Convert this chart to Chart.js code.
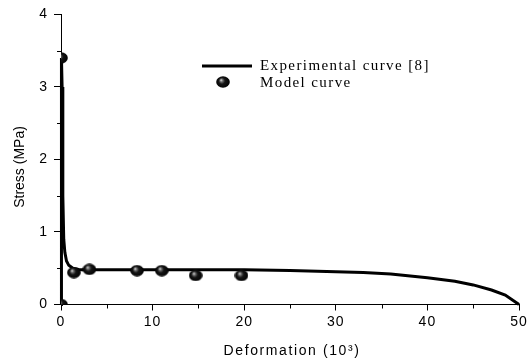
<!DOCTYPE html>
<html><head><meta charset="utf-8">
<script src="https://cdn.jsdelivr.net/npm/chart.js@4/dist/chart.umd.min.js"></script>
<style>html,body{margin:0;padding:0;background:#fff}#wrap{width:532px;height:361px}</style>
</head><body><div id="wrap"><canvas id="c" width="532" height="361"></canvas></div>
<script>
// Experimental curve [8] (x in 10^3, stress in MPa)
const expX = [0, 0.05, 0.12, 0.2, 0.3, 0.42, 0.6, 0.85, 1.3, 2, 5, 10, 15, 20, 25, 30, 33, 36, 40, 43, 45, 47, 48.5, 50];
const expY = [0, 3.4, 3.0, 1.5, 0.9, 0.72, 0.6, 0.54, 0.5, 0.48, 0.48, 0.48, 0.48, 0.48, 0.47, 0.45, 0.44, 0.42, 0.37, 0.32, 0.27, 0.2, 0.13, 0];
// Model curve points
const modX = [0, 0, 1.4, 3.1, 8.3, 11.0, 14.7, 19.7];
const modY = [3.40, 0, 0.44, 0.485, 0.467, 0.467, 0.40, 0.40];
const xTicks = [0, 10, 20, 30, 40, 50];
const yTicks = [0, 1, 2, 3, 4];
const labels = ['Experimental curve [8]', 'Model curve'];
const titles = { x: 'Deformation (10³)', y: 'Stress (MPa)' };

function sphere() {
  const c = document.createElement('canvas');
  c.width = 14; c.height = 12;
  const g = c.getContext('2d');
  const grad = g.createRadialGradient(5, 4, 0, 7, 6, 7);
  grad.addColorStop(0, '#e8e8e8');
  grad.addColorStop(0.2, '#707070');
  grad.addColorStop(0.45, '#151515');
  grad.addColorStop(1, '#000');
  g.fillStyle = grad;
  g.beginPath(); g.ellipse(7, 6, 6.8, 5.8, 0, 0, Math.PI * 2); g.fill();
  return c;
}
const ball = sphere();

const spacing = {
  id: 'spacing',
  beforeDraw(chart) { chart.ctx.letterSpacing = '1px'; },
  afterDatasetsDraw(chart) { chart.ctx.letterSpacing = '0px'; }
};

const extras = {
  id: 'extras',
  afterDraw(chart) {
    const ctx = chart.ctx, xs = chart.scales.x, ys = chart.scales.y, a = chart.chartArea;
    ctx.save();
    ctx.letterSpacing = '0px';
    ctx.strokeStyle = '#000'; ctx.lineWidth = 1;
    // minor ticks
    for (let v = 5; v < 50; v += 10) {
      const px = Math.round(xs.getPixelForValue(v)) + 0.5;
      ctx.beginPath(); ctx.moveTo(px, a.bottom); ctx.lineTo(px, a.bottom + 4); ctx.stroke();
    }
    for (let v = 0.5; v < 4; v += 1) {
      const py = Math.round(ys.getPixelForValue(v)) + 0.5;
      ctx.beginPath(); ctx.moveTo(a.left, py); ctx.lineTo(a.left - 4, py); ctx.stroke();
    }
    // axis titles
    ctx.fillStyle = '#000';
    ctx.font = '14px "Liberation Sans", Arial, sans-serif';
    ctx.textAlign = 'center'; ctx.textBaseline = 'middle';
    ctx.letterSpacing = '1.6px';
    ctx.fillText(titles.x, 292, 351);
    ctx.letterSpacing = '0px';
    ctx.save();
    ctx.translate(20, 167); ctx.rotate(-Math.PI / 2);
    ctx.fillText(titles.y, 0, 0);
    ctx.restore();
    // legend
    ctx.lineWidth = 3;
    ctx.beginPath(); ctx.moveTo(202, 66); ctx.lineTo(252, 66); ctx.stroke();
    ctx.drawImage(ball, 216, 76);
    ctx.font = '15px "Liberation Serif", "Times New Roman", serif';
    ctx.textAlign = 'left'; ctx.textBaseline = 'alphabetic';
    ctx.letterSpacing = '1.4px';
    ctx.fillText(labels[0], 260, 70);
    ctx.fillText(labels[1], 260, 87);
    ctx.restore();
  }
};

new Chart(document.getElementById('c'), {
  type: 'scatter',
  data: {
    datasets: [
      {
        type: 'line', label: labels[0],
        data: expX.map((x, i) => ({ x, y: expY[i] })),
        borderColor: '#000', borderWidth: 3, pointRadius: 0, tension: 0,
        fill: false, clip: 2, order: 2
      },
      {
        label: labels[1],
        data: modX.map((x, i) => ({ x, y: modY[i] })),
        pointStyle: ball, pointRadius: 7, clip: 0, order: 1
      }
    ]
  },
  plugins: [spacing, extras],
  options: {
    responsive: false, animation: false,
    layout: { padding: { top: 14, right: 13, left: 0, bottom: 0 } },
    plugins: { legend: { display: false }, tooltip: { enabled: false } },
    scales: {
      x: {
        type: 'linear', min: 0, max: 50,
        afterBuildTicks: s => { s.ticks = xTicks.map(v => ({ value: v })); },
        afterFit: s => { s.height = 56.5; },
        ticks: { color: '#000', font: { family: '"Liberation Sans", Arial, sans-serif', size: 14 }, padding: 3, maxRotation: 0 },
        grid: { display: true, drawOnChartArea: false, drawTicks: true, tickLength: 6, color: '#000', lineWidth: 1 },
        border: { display: true, color: '#000', width: 1 }
      },
      y: {
        type: 'linear', min: 0, max: 4,
        afterBuildTicks: s => { s.ticks = yTicks.map(v => ({ value: v })); },
        afterFit: s => { s.width = 61; },
        ticks: { color: '#000', font: { family: '"Liberation Sans", Arial, sans-serif', size: 14 }, padding: 6 },
        grid: { display: true, drawOnChartArea: false, drawTicks: true, tickLength: 7, color: '#000', lineWidth: 1 },
        border: { display: true, color: '#000', width: 1 }
      }
    }
  }
});
</script></body></html>
